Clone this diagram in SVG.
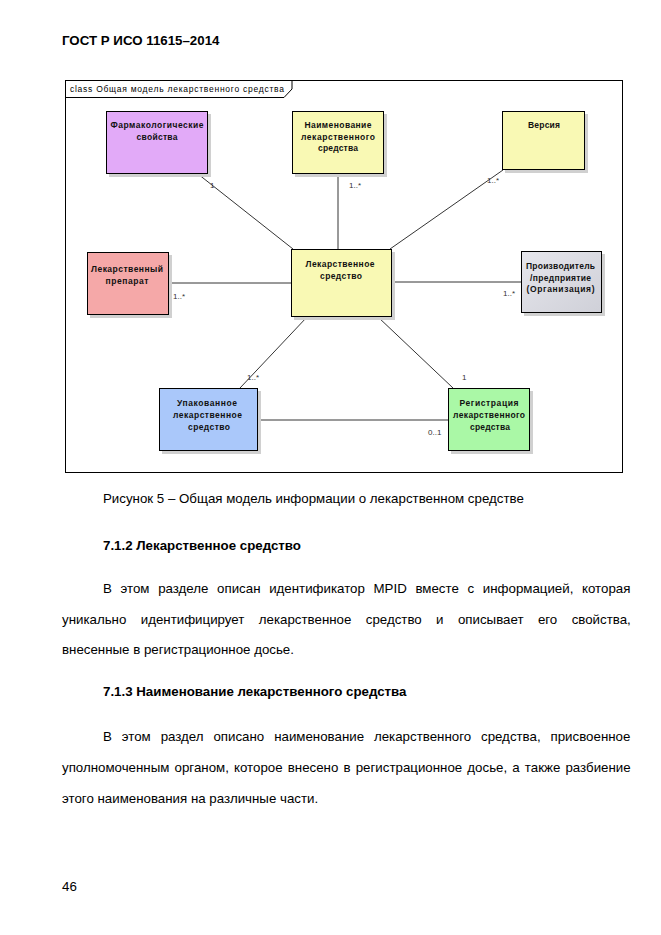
<svg xmlns="http://www.w3.org/2000/svg" width="661" height="935" viewBox="0 0 661 935">
<style>
text{font-family:"Liberation Sans",Arial,sans-serif;fill:#000}
.pg{font-size:13.3px}
.b{font-weight:bold}
.nt{font-size:8.5px;font-weight:bold;text-anchor:middle;fill:#111}
.ml{font-size:8px;fill:#333}
.box{stroke:#000;stroke-width:1}
.sh{fill:#d0d0d0}
.ln{stroke:#000;stroke-width:0.8;fill:none}
</style>
<defs>
<linearGradient id="gr" x1="0" y1="0" x2="1" y2="1">
<stop offset="0" stop-color="#e6e6ec"/>
<stop offset="1" stop-color="#cfd0d8"/>
</linearGradient>
</defs>
<rect width="661" height="935" fill="#fff"/>

<text class="pg b" x="62" y="45">ГОСТ Р ИСО 11615–2014</text>

<g id="frame">
<rect x="65.5" y="80.5" width="557" height="392" fill="#fff" stroke="#000" stroke-width="1"/>
<polyline points="65.5,97.5 284,97.5 292,89 292,80.5" fill="none" stroke="#000" stroke-width="1"/>
<text x="70" y="92" style="font-size:8.5px" textLength="214" lengthAdjust="spacing">class Общая модель лекарственного средства</text>
</g>

<g id="connectors">
<line class="ln" x1="198" y1="174" x2="293" y2="249"/>
<line class="ln" x1="338" y1="174" x2="338" y2="249"/>
<line class="ln" x1="503" y1="170" x2="390" y2="249"/>
<line class="ln" x1="169" y1="283" x2="291" y2="283"/>
<line class="ln" x1="392" y1="282" x2="521" y2="282"/>
<line class="ln" x1="307" y1="317" x2="240" y2="388"/>
<line class="ln" x1="378" y1="317" x2="453" y2="388"/>
<line class="ln" x1="258" y1="420" x2="448" y2="420"/>
<text class="ml" x="210" y="188">1</text>
<text class="ml" x="349" y="188">1..*</text>
<text class="ml" x="487" y="183">1..*</text>
<text class="ml" x="173" y="299">1..*</text>
<text class="ml" x="503" y="296">1..*</text>
<text class="ml" x="247" y="380">1..*</text>
<text class="ml" x="462" y="380">1</text>
<text class="ml" x="428" y="435">0..1</text>
</g>

<g id="n-farm">
<rect class="sh" x="109" y="114" width="102" height="63"/>
<rect class="box" x="106.5" y="111.5" width="101" height="62" fill="#e2aaf8"/>
<text class="nt" x="157" y="128" textLength="93" lengthAdjust="spacing">Фармакологические</text>
<text class="nt" x="157" y="140" textLength="41" lengthAdjust="spacing">свойства</text>
</g>

<g id="n-name">
<rect class="sh" x="295" y="114" width="92" height="63"/>
<rect class="box" x="292.5" y="111.5" width="91" height="62" fill="#f9f9b4"/>
<text class="nt" x="338" y="128" textLength="67" lengthAdjust="spacing">Наименование</text>
<text class="nt" x="338" y="139.5" textLength="74" lengthAdjust="spacing">лекарственного</text>
<text class="nt" x="338" y="151" textLength="40" lengthAdjust="spacing">средства</text>
</g>

<g id="n-version">
<rect class="sh" x="505" y="114" width="83" height="59"/>
<rect class="box" x="502.5" y="111.5" width="82" height="58" fill="#f9f9b4"/>
<text class="nt" x="544" y="128" textLength="32" lengthAdjust="spacing">Версия</text>
</g>

<g id="n-prep">
<rect class="sh" x="90" y="255" width="82" height="63"/>
<rect class="box" x="87.5" y="252.5" width="81" height="62" fill="#f5a8a8"/>
<text class="nt" x="127" y="272" textLength="72" lengthAdjust="spacing">Лекарственный</text>
<text class="nt" x="127" y="283.5" textLength="43" lengthAdjust="spacing">препарат</text>
</g>

<g id="n-center">
<rect class="sh" x="294" y="252" width="101" height="68"/>
<rect class="box" x="291.5" y="249.5" width="100" height="67" fill="#f9f9b4"/>
<text class="nt" x="340" y="267" textLength="69" lengthAdjust="spacing">Лекарственное</text>
<text class="nt" x="341" y="279" textLength="42" lengthAdjust="spacing">средство</text>
</g>

<g id="n-maker">
<rect class="sh" x="524" y="254" width="81" height="62"/>
<rect class="box" x="521.5" y="251.5" width="80" height="61" fill="url(#gr)"/>
<text class="nt" x="560.5" y="269" textLength="69" lengthAdjust="spacing">Производитель</text>
<text class="nt" x="560.5" y="280.5" textLength="61" lengthAdjust="spacing">/предприятие</text>
<text class="nt" x="560.5" y="292" textLength="68" lengthAdjust="spacing">(Организация)</text>
</g>

<g id="n-pack">
<rect class="sh" x="162" y="391" width="99" height="63"/>
<rect class="box" x="159.5" y="388.5" width="98" height="62" fill="#aac8fa"/>
<text class="nt" x="207" y="406" textLength="60" lengthAdjust="spacing">Упакованное</text>
<text class="nt" x="207.5" y="418" textLength="69" lengthAdjust="spacing">лекарственное</text>
<text class="nt" x="209" y="430" textLength="42" lengthAdjust="spacing">средство</text>
</g>

<g id="n-reg">
<rect class="sh" x="451" y="391" width="82" height="63"/>
<rect class="box" x="448.5" y="388.5" width="81" height="62" fill="#aaf8a6"/>
<text class="nt" x="489" y="406" textLength="59" lengthAdjust="spacing">Регистрация</text>
<text class="nt" x="489" y="418" textLength="72" lengthAdjust="spacing">лекарственного</text>
<text class="nt" x="490" y="430" textLength="40" lengthAdjust="spacing">средства</text>
</g>

<text class="pg" x="103" y="503">Рисунок 5 – Общая модель информации о лекарственном средстве</text>
<text class="pg b" x="103" y="550">7.1.2 Лекарственное средство</text>
<text class="pg" x="103" y="593" style="word-spacing:4.95px">В этом разделе описан идентификатор MPID вместе с информацией, которая</text>
<text class="pg" x="62" y="624" style="word-spacing:10.7px">уникально идентифицирует лекарственное средство и описывает его свойства,</text>
<text class="pg" x="62" y="654">внесенные в регистрационное досье.</text>
<text class="pg b" x="103" y="696">7.1.3 Наименование лекарственного средства</text>
<text class="pg" x="103" y="741" style="word-spacing:6.2px">В этом раздел описано наименование лекарственного средства, присвоенное</text>
<text class="pg" x="62" y="772" style="word-spacing:1.45px">уполномоченным органом, которое внесено в регистрационное досье, а также разбиение</text>
<text class="pg" x="62" y="803">этого наименования на различные части.</text>
<text class="pg" x="62" y="891">46</text>
</svg>
